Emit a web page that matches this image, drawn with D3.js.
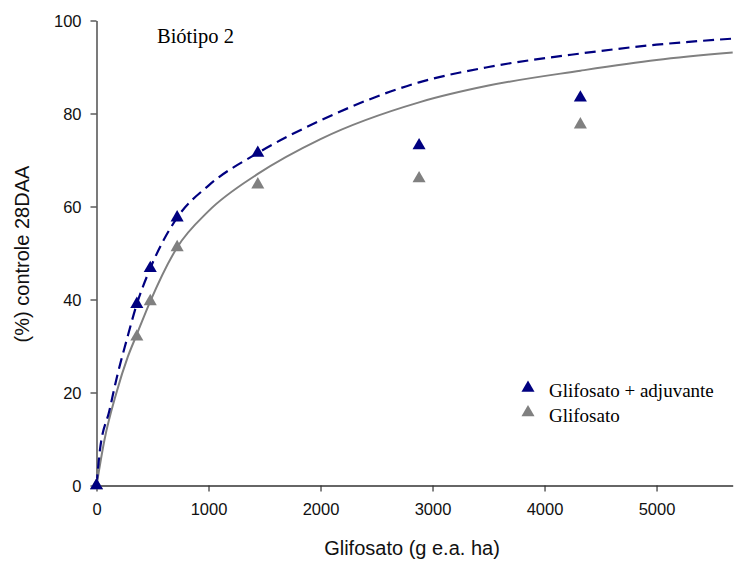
<!DOCTYPE html>
<html>
<head>
<meta charset="utf-8">
<script src="https://cdn.jsdelivr.net/npm/d3@7"></script>
<style>
  html, body { margin: 0; padding: 0; background: #fff; }
  svg { display: block; }
</style>
</head>
<body>
<svg id="chart" width="734" height="565"></svg>
<script>
// Observed control (%) at each glyphosate dose
const doses = [0, 360, 480, 720, 1440, 2880, 4320];
const comAdjuvante = [0, 39, 46.7, 57.6, 71.5, 73.1, 83.4];
const semAdjuvante = [0, 32, 39.6, 51.2, 64.7, 66.0, 77.6];

// Fitted response curves (dose, control %)
const curveDoseAdj = [0, 27, 116, 190, 265, 360, 480, 720, 1000, 1440, 2000, 2880, 3500, 4320, 5000, 5680];
const curveAdj     = [0, 6.9, 16.2, 24.1, 30.9, 39, 46.7, 57.6, 64.5, 71.5, 78.5, 86.7, 90, 92.9, 94.8, 96.1];
const curveDoseGli = [0, 71, 176, 280, 360, 480, 720, 1000, 1440, 2000, 2880, 3500, 4320, 5000, 5680];
const curveGli     = [0, 9.8, 19.8, 27.7, 32.5, 39.6, 51.2, 59, 67, 74.5, 82.4, 86, 89.2, 91.5, 93.1];

const xTicks = [0, 1000, 2000, 3000, 4000, 5000];
const yTicks = [0, 20, 40, 60, 80, 100];

const svg = d3.select("#chart");
const x = d3.scaleLinear().domain([0, 5680]).range([96.5, 732.7]);
const y = d3.scaleLinear().domain([0, 100]).range([485.5, 20.5]);

const navy = "#000080", gray = "#808080";
const sans = "Liberation Sans, Arial, sans-serif";
const serif = "Liberation Serif, Times New Roman, serif";

// Axes
const xAxis = svg.append("g").attr("transform", `translate(0,${y(0)})`)
  .call(d3.axisBottom(x).tickValues(xTicks).tickFormat(d3.format("d"))
    .tickSize(6).tickPadding(12).tickSizeOuter(0));
const yAxis = svg.append("g").attr("transform", `translate(${x(0)},0)`)
  .call(d3.axisLeft(y).tickValues(yTicks).tickFormat(d3.format("d"))
    .tickSize(6).tickPadding(9).tickSizeOuter(0));
[xAxis, yAxis].forEach(g => {
  g.selectAll(".domain").attr("stroke", "#333").attr("stroke-width", 1.3);
  g.selectAll(".tick line").attr("stroke", "#333").attr("stroke-width", 1.2);
  g.selectAll("text").attr("font-family", sans)
    .attr("font-size", 16.5).attr("fill", "#111");
});
yAxis.selectAll("text").attr("dy", "0.36em");

// Axis titles
svg.append("text").attr("x", 412).attr("y", 555).attr("text-anchor", "middle")
  .attr("font-family", sans).attr("font-size", 20)
  .attr("fill", "#111").text("Glifosato (g e.a. ha)");
svg.append("text").attr("transform", "translate(29,254) rotate(-90)").attr("text-anchor", "middle")
  .attr("font-family", sans).attr("font-size", 20)
  .attr("fill", "#111").text("(%) controle 28DAA");

svg.append("text").attr("x", 157).attr("y", 43)
  .attr("font-family", serif).attr("font-size", 20.5)
  .attr("fill", "#000").text("Biótipo 2");

// Curves
const line = d3.line().x(d => x(d[0])).y(d => y(d[1])).curve(d3.curveMonotoneX);
svg.append("path").datum(d3.zip(curveDoseGli, curveGli)).attr("d", line)
  .attr("fill", "none").attr("stroke", gray).attr("stroke-width", 2);
svg.append("path").datum(d3.zip(curveDoseAdj, curveAdj)).attr("d", line)
  .attr("fill", "none").attr("stroke", navy).attr("stroke-width", 2.2)
  .attr("stroke-dasharray", "11,6");

// Points
const tri = d3.symbol().type(d3.symbolTriangle).size(74);
svg.append("g").selectAll("path").data(d3.zip(doses, semAdjuvante)).join("path")
  .attr("d", tri).attr("fill", gray)
  .attr("transform", d => `translate(${x(d[0])},${y(d[1])})`);
svg.append("g").selectAll("path").data(d3.zip(doses, comAdjuvante)).join("path")
  .attr("d", tri).attr("fill", navy)
  .attr("transform", d => `translate(${x(d[0])},${y(d[1])})`);

// Legend
const legend = [["Glifosato + adjuvante", navy], ["Glifosato", gray]];
const lg = svg.append("g");
legend.forEach(([label, color], i) => {
  const yy = 388 + i * 24.5;
  lg.append("path").attr("d", tri).attr("fill", color)
    .attr("transform", `translate(528,${yy})`);
  lg.append("text").attr("x", 549).attr("y", yy + 9)
    .attr("font-family", serif).attr("font-size", 19)
    .attr("fill", "#000").text(label);
});
</script>
</body>
</html>
